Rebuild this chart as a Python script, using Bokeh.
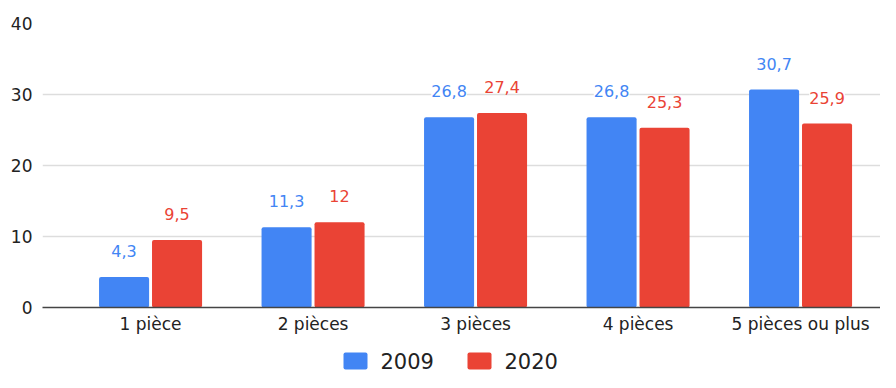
from bokeh.plotting import figure
from bokeh.layouts import column
from bokeh.models import (ColumnDataSource, Range1d, FixedTicker, LabelSet)
from bokeh.core.properties import value
from bokeh.transform import dodge
from bokeh.embed import file_html
from bokeh.resources import INLINE

categories = ["1 pièce", "2 pièces", "3 pièces", "4 pièces", "5 pièces ou plus"]
series_names = ["2009", "2020"]
values_2009 = [4.3, 11.3, 26.8, 26.8, 30.7]
values_2020 = [9.5, 12, 27.4, 25.3, 25.9]
y_ticks = [0, 10, 20, 30, 40]

BLUE = "#4285F4"
RED = "#EA4335"
FONT = "DejaVu Sans"

def fmt(v):
    s = ("%g" % v)
    return s.replace(".", ",")

xs = list(range(len(categories)))
src = ColumnDataSource(dict(
    x=xs,
    v2009=values_2009,
    v2020=values_2020,
    t2009=[fmt(v) for v in values_2009],
    t2020=[fmt(v) for v in values_2020],
))

p = figure(width=880, height=340, output_backend="svg", toolbar_location=None,
           x_range=Range1d(-0.665, 4.492), y_range=Range1d(0, 40),
           min_border_left=42, min_border_right=0, min_border_top=23, min_border_bottom=33)
p.outline_line_color = None
p.background_fill_color = "white"
p.border_fill_color = "white"

bw = 0.308
off = 0.163
r1 = p.vbar(x=dodge("x", -off, range=p.x_range), top="v2009", width=bw, source=src,
            fill_color=BLUE, line_color=None, border_radius=2)
r2 = p.vbar(x=dodge("x", off, range=p.x_range), top="v2020", width=bw, source=src,
            fill_color=RED, line_color=None, border_radius=2)

l1 = LabelSet(x=dodge("x", -off, range=p.x_range), y="v2009", text="t2009", source=src,
              text_align="center", text_baseline="alphabetic", y_offset=20,
              text_color=BLUE, text_font=value(FONT), text_font_size="16px",
              background_fill_color="white")
l2 = LabelSet(x=dodge("x", off, range=p.x_range), y="v2020", text="t2020", source=src,
              text_align="center", text_baseline="alphabetic", y_offset=20,
              text_color=RED, text_font=value(FONT), text_font_size="16px",
              background_fill_color="white")
p.add_layout(l1)
p.add_layout(l2)

p.xgrid.grid_line_color = None
p.ygrid.grid_line_color = "#dddddd"
p.ygrid.grid_line_width = 1.5
p.yaxis.ticker = FixedTicker(ticks=y_ticks)
p.yaxis.axis_line_color = None
p.yaxis.major_tick_line_color = None
p.yaxis.minor_tick_line_color = None
p.yaxis.major_tick_out = 0
p.yaxis.major_tick_in = 0
p.yaxis.minor_tick_out = 0
p.yaxis.major_label_standoff = 10
p.yaxis.major_label_text_font = FONT
p.yaxis.major_label_text_font_size = "17px"
p.yaxis.major_label_text_color = "#222222"

p.xaxis.ticker = FixedTicker(ticks=xs)
p.xaxis.major_label_overrides = {i: c for i, c in enumerate(categories)}
p.xaxis.axis_line_color = "#444444"
p.xaxis.axis_line_width = 1.5
p.xaxis.major_tick_line_color = None
p.xaxis.minor_tick_line_color = None
p.xaxis.major_tick_out = 0
p.xaxis.major_tick_in = 0
p.xaxis.minor_tick_out = 0
p.xaxis.major_label_standoff = 6
p.xaxis.major_label_text_font = FONT
p.xaxis.major_label_text_font_size = "17px"
p.xaxis.major_label_text_color = "#222222"

# legend strip (frame is aligned with the main plot's frame: x 42..880)
q = figure(width=880, height=32, output_backend="svg", toolbar_location=None,
           x_range=Range1d(42, 880), y_range=Range1d(0, 32),
           x_axis_location=None, y_axis_location=None,
           min_border_left=42, min_border_right=0, min_border_top=0, min_border_bottom=0)
q.outline_line_color = None
q.xgrid.grid_line_color = None
q.ygrid.grid_line_color = None
q.border_fill_color = "white"
q.background_fill_color = "white"

leg_src = ColumnDataSource(dict(
    name=series_names,
    color=[BLUE, RED],
    sx=[343, 467],
))
q.quad(left="sx", right=dodge("sx", 24, range=q.x_range), bottom=3, top=20,
       fill_color="color", line_color=None, border_radius=2, source=leg_src)
q.text(x=dodge("sx", 37, range=q.x_range), y=12, text="name", source=leg_src,
       text_baseline="middle", text_align="left", text_color="#222222",
       text_font=value(FONT), text_font_size="21px")

layout = column(p, q, spacing=0)
open("out.html", "w").write(file_html(layout, INLINE))
